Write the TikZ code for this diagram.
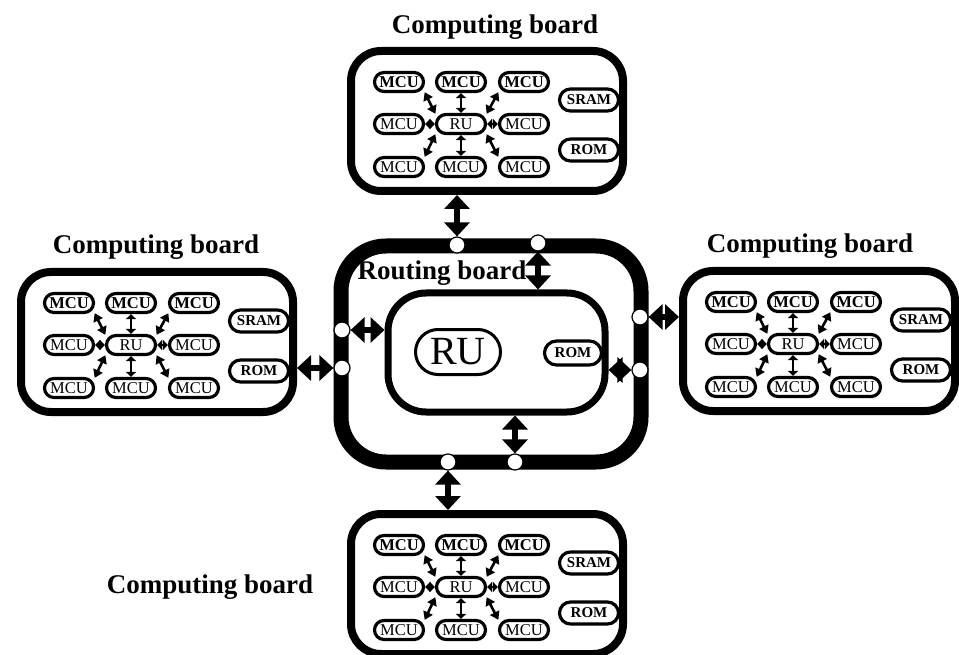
\documentclass[tikz,border=0pt]{standalone}
\usepackage{fontspec}
\setmainfont{Liberation Serif}
\usetikzlibrary{arrows.meta}

\tikzset{
  pill/.style={draw, fill=white, line width=3.2pt, inner sep=0pt, rounded corners=#1},
  mcu/.style={pill=9.5pt, minimum width=49pt, minimum height=19pt,
    font=\fontsize{16.5}{17}\selectfont},
  mcub/.style={mcu, font=\fontsize{16.5}{17}\selectfont\bfseries},
  mem/.style={pill=11pt, minimum width=59pt, minimum height=22pt,
    font=\fontsize{15}{16}\selectfont\bfseries},
  frame/.style={draw, line width=8pt, rounded corners=30pt, inner sep=0pt,
    minimum width=272pt, minimum height=140pt},
  title/.style={font=\fontsize{27}{30}\selectfont\bfseries, inner sep=0pt},
  port/.style={circle, draw, fill=white, line width=1.2pt, minimum size=16pt, inner sep=0pt},
  link/.style={line width=2.6pt, {Triangle[length=8pt,width=10pt]}-{Triangle[length=8pt,width=10pt]},
    shorten <=-1pt, shorten >=-1pt},
  shortlink/.style={line width=2.4pt, {Triangle[length=5pt,width=10pt]}-{Triangle[length=5pt,width=10pt]}},
  bus/.style={line width=6pt, {Triangle[length=14pt,width=25pt]}-{Triangle[length=14pt,width=25pt]}},
  board/.pic={
    \node[frame] (-frame) at (140,74) {};
    \node[mcub] (-m11) at (52,35) {MCU};
    \node[mcub] (-m12) at (114,35) {MCU};
    \node[mcub] (-m13) at (177,35) {MCU};
    \node[mcu] (-m21) at (52,77) {MCU};
    \node[mcu] (-ru) at (114,77) {RU};
    \node[mcu] (-m23) at (177,77) {MCU};
    \node[mcu] (-m31) at (52,120) {MCU};
    \node[mcu] (-m32) at (114,120) {MCU};
    \node[mcu] (-m33) at (177,120) {MCU};
    \node[mem] (-sram) at (242,53) {SRAM};
    \node[mem] (-rom) at (242,103) {ROM};
    \draw[link] (-ru.north west) -- (-m11.south east);
    \draw[link] (-ru.north east) -- (-m13.south west);
    \draw[link] (-ru.south west) -- (-m31.north east);
    \draw[link] (-ru.south east) -- (-m33.north west);
    \draw[shortlink] (-ru.north) -- (-m12.south);
    \draw[shortlink] (-ru.south) -- (-m32.north);
    \draw[shortlink] (-ru.west) -- (-m21.east);
    \draw[shortlink] (-ru.east) -- (-m23.west);
  }
}

\begin{document}
\begin{tikzpicture}[x=1pt, y=-1pt]
  \useasboundingbox[fill=white] (0,0) rectangle (959,655);

  % computing boards
  \pic (top) at (347,47) {board};
  \pic (left) at (17,268) {board};
  \pic (right) at (679,267) {board};
  \pic (bottom) at (347,510) {board};

  \node[title] (ttop) at (495,27) {Computing board};
  \node[title] (tleft) at (156,247) {Computing board};
  \node[title] (tright) at (810,246) {Computing board};
  \node[title] (tbottom) at (210,587) {Computing board};

  % routing board
  \node[draw, line width=15pt, rounded corners=45pt, inner sep=0pt,
        minimum width=300pt, minimum height=216pt] (route) at (491,354) {};
  \node[draw, line width=7pt, rounded corners=38pt, inner sep=0pt,
        minimum width=217pt, minimum height=119pt] (inner) at (496.5,352.5) {};
  \node[title] (troute) at (442,273) {Routing board};
  \node[pill=22.5pt, line width=3pt, minimum width=85pt, minimum height=45pt,
        font=\fontsize{40}{40}\selectfont] (bigru) at (458,352) {RU};
  \node[pill=12pt, minimum width=57pt, minimum height=24pt,
        font=\fontsize{15}{15}\selectfont\bfseries] (rrom) at (573,353) {ROM};

  % ports on the routing board edge
  \node[port] (pt1) at (457,245) {};
  \node[port] (pt2) at (538,243) {};
  \node[port] (pl1) at (342,330) {};
  \node[port] (pl2) at (342,368) {};
  \node[port] (pr1) at (640,317) {};
  \node[port] (pr2) at (640,370) {};
  \node[port] (pb1) at (448,462) {};
  \node[port] (pb2) at (515,462) {};

  % buses
  \draw[bus] (top-frame.south -| pt1) -- (pt1.north);
  \draw[bus] (pt2.south) -- (pt2 |- inner.north);
  \draw[bus] (pl1.east) -- (pl1 -| inner.west);
  \draw[bus] (left-frame.east |- pl2) -- (pl2.west);
  \draw[bus] (pr1.east) -- (pr1 -| right-frame.west);
  \draw[bus] (pr2 -| inner.east) -- (pr2.west);
  \draw[bus] (pb2 |- inner.south) -- (pb2.north);
  \draw[bus] (pb1.south) -- (pb1 |- bottom-frame.north);
\end{tikzpicture}
\end{document}
